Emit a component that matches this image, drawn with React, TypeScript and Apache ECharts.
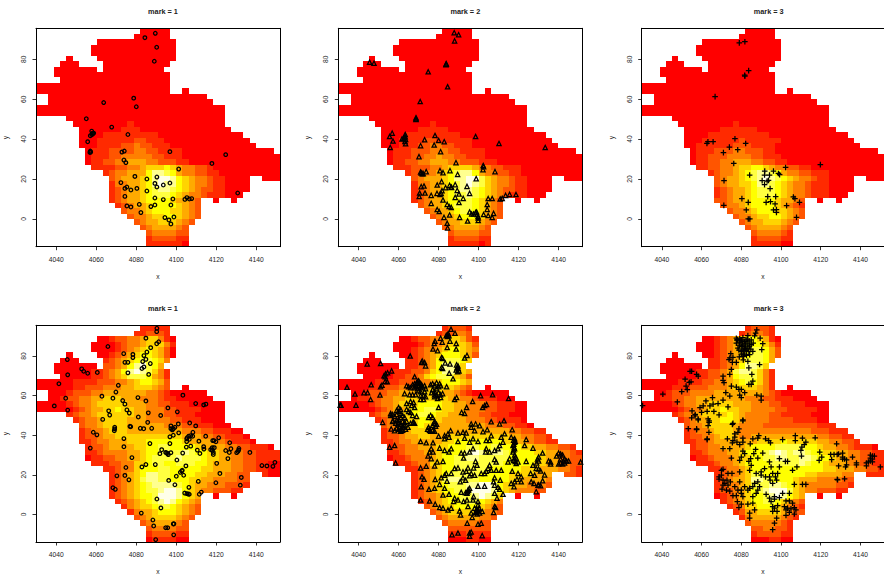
import React, { useEffect, useRef } from "react";
import * as echarts from "echarts";

const X_RANGE = [4029.85, 4151.85];
const Y_RANGE = [-13.9, 95.5];
const N_CELLS = 40;
const X_TICKS = [4040, 4060, 4080, 4100, 4120, 4140];
const Y_TICKS = [0, 20, 40, 60, 80];
const TITLES = ["mark = 1", "mark = 2", "mark = 3", "mark = 1", "mark = 2", "mark = 3"];
const PALETTE = ["#FF0000", "#FF2A00", "#FF5500", "#FF8000", "#FFAA00", "#FFD400", "#FFFF00", "#FFFF40", "#FFFF90", "#FFFFE8"];

// window mask: [from, to] column spans per image row, top row first
const MASK: number[][][] = [
  [[17, 21]], [[16, 21]], [[10, 22]], [[9, 22]], [[9, 22]], [[5, 5], [10, 22]], [[4, 6], [11, 21]], [[3, 9], [11, 20]],
  [[3, 21]], [[4, 21]], [[0, 21]], [[0, 21], [24, 24]], [[2, 27]], [[2, 28]], [[0, 30]], [[0, 30]],
  [[5, 30]], [[6, 30]], [[7, 31]], [[7, 33]], [[7, 34]], [[7, 35]], [[8, 38]], [[8, 39]],
  [[8, 39]], [[9, 39]], [[11, 39]], [[12, 34], [37, 39]], [[12, 34]], [[12, 34]], [[12, 33]], [[12, 26], [29, 29], [32, 32]],
  [[13, 26]], [[14, 26]], [[15, 26]], [[16, 25]], [[17, 24]], [[18, 24]], [[18, 24]], [[18, 24]],
];

// intensity levels per row as "firstColumn:levels"; everything else is level 0
const LEVELS_1 = ["", "", "", "", "", "", "", "", "", "", "", "", "", "", "", "", "",
  "15:1", "14:111", "11:111111111", "10:11111122111", "10:111122322111", "9:111222233221111", "9:111223333322111",
  "9:1122334443322211", "9:11112233455565433221", "11:1233444688764332211", "12:2344456899865433211", "12:1334456898865433211",
  "12:1234456788765432211", "12:1234456777654332111", "12:123445666654432", "13:12344566665432", "14:2334566655432",
  "15:233455665432", "16:2344555432", "17:23444432", "18:2333322", "18:1222211", "18:1111110"];
const LEVELS_2 = ["", "", "", "", "", "", "", "", "", "", "", "", "", "", "", "", "",
  "15:1", "13:11111", "11:111111111", "10:111122111111", "10:111223322111", "9:111222333221111", "9:111223343322111",
  "9:11223344433222111", "9:111222334555543322111", "11:1223345678864332211", "12:2344456889975433211", "12:1334456789875433211",
  "12:1234456788765432211", "12:1234456778765432111", "12:123445667765432", "13:23445677765432", "14:2344567765432",
  "15:234456665432", "16:2344555432", "17:23444432", "18:2333322", "18:1222211", "18:1111101"];
const LEVELS_3 = ["", "", "", "", "", "", "", "", "", "", "", "", "", "", "", "", "",
  "15:1", "13:111111", "11:1111111111", "10:1111112111111", "9:1111112221111", "9:1112223322211", "9:11222333322111",
  "9:112233444332211", "9:1122334556654332211", "11:12334567887643322111", "12:2344567898765433211", "12:2344556887654332111",
  "12:1234456777654332111", "12:1234456777654332111", "12:223445666654432", "13:23345666654321", "14:2334566655432",
  "15:233455665432", "16:2344555432", "17:23444432", "18:2333321", "18:1222211", "18:1111100"];
const LEVELS_4 = ["17:11111", "16:112221", "12:1223345531", "13:1233455531", "13:123456542",
  "12:1234566542", "11:12345677653", "11:2234689764", "9:1123468987531", "9:1123457776431",
  "6:111122233456654 21", "6:11222333445554321", "5:12223344444443321", "4:12233445554443332110", "5:12334555554443322111",
  "6:123445565544333221111", "5:123345555554433322111", "6:123345555444333322111", "7:2334555544444433322111",
  "7:123345554444444443332 2111", "7:1223445555555555544433221 11", "7:1123344455566666654444332111",
  "8:1223444455667766665444433221 11", "8:1123333445667777876655443322 1111", "9:112233445677778777655443322 1111",
  "9:111223355677667776654443322110", "11:11233566677666665544433 2211", "12:12345688776666554443322111",
  "12:123457887766655443333221", "12:12345678888765443332221", "12:1234567789986543322211",
  "12:1234566799986543", "13:12345678986543", "14:1345567765432", "15:134456665432", "16:2345555432", "17:23444432", "18:2333322", "18:1222211", "19:1111"];
const LEVELS_5 = ["17:12221", "16:122332", "12:12233455421", "13:1233455542", "12:123345665431", "12:123456665421", "11:1123467776531",
  "11:1123468875421", "9:111223568875421", "9:112235677754 21", "6:111122233456665421", "5:112223334455554321", "4:122233444555544321",
  "3:11223344555555544332111", "5:123345556666554433322111", "6:12344566776554433322111", "5:1233455677655444332211 1",
  "6:123345566554444333221111", "7:23345565544444444333221 1",
  "7:123345554444444444444332211", "7:1223445544455555555554433221 1", "7:11233444445566666666554432211",
  "8:1223344455666776677666554433221 1", "8:11233344566678987887666 6554433211", "8:01123334566778877777666665443 3221",
  "9:1112335566777777776666655443322", "11:11234566777777666665554443321", "12:123456777776666655554443 32 21",
  "12:1234578877766666554444332 21", "12:1234567778899865544333221", "12:123456677899986543332 2",
  "12:123345667789875", "13:12345667776543", "14:2345566665432", "15:234555554332", "16:2344444332", "17:23333322", "18:2222222", "18:1112111", "18:0001100"];
const LEVELS_6 = ["17:12221", "16:123321", "12:1234566541", "12:12345666531", "12:123456776421", "12:123456776421", "11:1123457776421",
  "11:112346887531", "9:1122347887531", "9:1122346777531", "6:1111223345676531", "5:11122233345555431", "4:1222333344444444321",
  "3:112233444444443332 2111", "5:1233445555444333221111", "6:1233455655443333221 1111", "5:12334555565433332211111",
  "6:12344556654333322221111", "7:2334555543333222222222111", "7:123345554333333333333222111", "7:1223345543344444444444332211 1",
  "7:1122344444445555655555443322 11", "8:1223344445666677777665443 321110", "8:112333445666789 87887665544332 2111", "8:011233345566778877887665443 32 211",
  "9:1112334566667777787665444332211", "11:11233456666666666665544433221 1", "12:123345776666666554444332 2111", "12:12344588766665444333322111",
  "12:1233457778876543333322111", "12:12234567899975433222 11", "12:0123456678986543", "13:12345667765432", "14:1235566654321", "15:124455554322", "16:1344444321", "17:23333321", "18:2233221", "18:1222211", "18:0001100"];

// points as [x - 4000, y]
const POINTS_1 = [[84.3,90.8],[89.5,93],[90.2,86],[89,79],[78.7,60.5],[80,56.2],[63.7,58.3],[55,50.2],[67.7,46],[75.8,42.3],[57.7,44],[57,41.7],[58.2,42.7],[58.3,43],[57.8,42.2],[58.7,43],[55.7,38.7],[57,34],[57.2,33.5],[56.8,33.3],[72.8,33.5],[74,34],[96.8,33.7],[73.8,29.5],[74.8,28.2],[101.2,25],[124.7,32.2],[117.8,27.8],[130.7,13],[79.3,21.3],[85.3,20],[90.3,21],[89.3,17.8],[90.3,16],[93.5,17],[96.8,18],[72.3,18.2],[75.3,16],[74.3,15.3],[77.3,14.5],[80.3,15.3],[85.3,14],[74.3,11.3],[89.3,10.5],[93.5,9.7],[98.3,10],[104.3,9.8],[105.3,10.7],[106.5,10],[107.7,10.2],[81.5,7.3],[87.3,6.2],[89.3,7],[97.3,7],[75.3,6.5],[77.3,6],[82.3,3.2],[94.3,0.7],[96.3,-0.5],[98.8,1],[97.3,-2.5]];
const POINTS_2 = [[87.8,93.3],[90,92.3],[88,89.2],[45.5,78.5],[47.7,78],[83.8,77.5],[83.8,77.8],[83.7,77.2],[74.8,73.7],[84.5,66.2],[70.8,58.8],[68.7,50.7],[68.7,49.8],[68.7,50.2],[56.8,43],[55.5,41.3],[57.2,39],[55.8,35.8],[63.3,42.3],[63.3,41.2],[63,40.8],[61.7,40],[62.5,40.3],[63.5,39.8],[63.2,38.8],[63.5,37.7],[71,36.7],[73,39.7],[78.2,41.8],[80,39.3],[82.8,38.7],[77.8,37],[81,33.7],[98.5,41.3],[110.2,37.8],[133.3,35.8],[70.2,31.2],[88.7,28.2],[102.3,26.8],[102.5,26.2],[102.2,24.7],[108.2,23.7],[71,23.5],[71.3,23],[71.8,22.7],[72.3,22.7],[73.8,23.7],[80.7,24.2],[82.2,23.2],[85.7,24.2],[89.5,22.3],[98.8,20.2],[81.5,18.7],[79.3,17],[83.5,15.7],[85.5,16.8],[86.2,16],[86.5,15.8],[88.3,17.2],[94.2,16.3],[89.3,14.3],[90.2,12.5],[95.5,12.8],[71.3,16.2],[72.7,16.5],[70.5,13],[70.3,11.2],[73.2,13],[76.3,11.8],[79.2,12.8],[80.7,12.3],[81.3,12.8],[81.7,14.2],[82.2,9.5],[88.3,10.8],[92.3,10.3],[90.2,8.2],[84.3,7.3],[85.3,6.2],[86.3,5.8],[76.3,7.8],[79.3,4.7],[80.3,3.7],[85.5,2],[82.7,0.8],[90.5,0.8],[84.3,-2.2],[84.5,-4.5],[94.5,-1],[95.5,3.5],[96.5,2.5],[97.5,2.5],[98.5,3.2],[99,3.5],[99.3,2.2],[99.7,1.2],[99.8,0.5],[99.8,-0.8],[102.5,2.2],[104.8,1.7],[106.8,0.8],[107.5,2.8],[104.3,7.2],[104.3,4.8],[104.8,10.2],[106.8,10.2],[110.8,10],[111.8,10.3],[113.5,11.8],[115.5,12.3],[118.7,12.2]];
const POINTS_3 = [[79,88.2],[81.8,88.8],[83.7,74.3],[81.7,72],[81.8,71.5],[66.8,61.3],[62.7,37.8],[63.2,38.7],[65.8,38.7],[76.8,40.2],[82.2,37.8],[74,36],[78.2,34.7],[71,33.2],[76.2,27.8],[119.8,27.2],[102.3,25.8],[84.2,22],[91.8,24],[91.7,22],[96.2,24],[94.2,22],[98.7,22.8],[99.3,22.2],[71.3,19.2],[90.5,19.2],[93,19],[93.7,19.3],[91.7,17.2],[94.5,15.2],[97.3,11.2],[93.3,11.2],[106.2,11],[107,10.2],[80.3,10.2],[83.5,8.3],[92.5,8.3],[94.7,8.7],[97,7.5],[109.3,8.3],[102.8,6.7],[71.2,6.8],[82.5,4.5],[96.2,4.5],[97.7,4.7],[97.7,3.3],[83.5,0],[84.3,0],[107.8,0.8]];
const POINTS_4 = [[90.3,94],[90.2,92.3],[84.8,89],[91.2,87.2],[90.2,86.2],[87.2,84.2],[65.8,84.8],[85.3,82],[83.8,80.2],[73.7,81.2],[78.3,80.8],[78.3,79.2],[84.8,78.3],[83.2,77.2],[74.3,76.8],[75.8,76.8],[87,76.2],[83.8,74.5],[82.8,73.7],[75.8,71.5],[86.2,70.7],[45.5,78.2],[52.7,73.5],[53.7,72.3],[55.7,71.3],[45.7,70.5],[60.5,71.7],[41.3,66],[71,65.2],[69.8,61.8],[62.8,59.7],[68.3,58.7],[80.8,59],[44.7,58.7],[73.2,57.5],[74.3,55.7],[84.8,57.3],[39,54.8],[45.7,52.7],[75.3,52.8],[66.2,52.3],[66.7,50.2],[76.5,51.2],[63.2,48],[81,49.2],[86,51.3],[92.2,50],[95.8,53.8],[100.5,51.8],[103.3,60.2],[109.7,56],[113.7,55.3],[114.8,55.7],[85.7,46.5],[106.7,46.2],[109.7,44.7],[101,45.7],[97.3,44.7],[99.3,44],[97.3,43.3],[98,42.7],[98.5,43.3],[76.8,44.5],[77.2,44.3],[69.2,44],[69.2,43.2],[69,42.3],[82,43.5],[83.7,43.3],[87.7,43.5],[101.2,41.2],[98.5,40],[96.8,39.2],[58.5,41.5],[60.3,40.2],[73.8,38.3],[73.8,34.2],[57,33.5],[86.8,35.8],[96.8,35.8],[105.2,36.8],[106.2,39.5],[107.2,39.8],[108.3,41.5],[108.2,39.5],[106.5,38],[105.2,38.2],[105.5,38.8],[107.2,34.5],[105,34],[114.7,39.5],[111.3,37],[121.2,38.7],[119.8,36.7],[118.2,37.3],[118.8,37.3],[113.7,34.2],[113.8,33],[110.5,32.5],[111.8,30.8],[117.2,32.7],[118,33.7],[119,33.7],[118,32.5],[118.5,31.3],[118.5,30.3],[124.7,32.3],[126.5,31.3],[126.7,36.2],[127.3,33.2],[130.2,31.2],[130.8,31.8],[131.3,33.3],[131.2,32.5],[136.8,31.3],[125.8,28.2],[120.2,25.8],[121.8,20.7],[119.8,16],[132.5,18.7],[132,14.8],[142.8,24.7],[145.3,24.5],[148.3,24.3],[149.3,26.3],[92.7,32.7],[91.8,30.7],[94.7,31.3],[95.2,31],[95.7,30.8],[96,30.2],[97.3,31.2],[103.2,31],[100.3,27.5],[77.8,28.7],[82.8,24],[84.8,25.2],[89.5,25.2],[74.8,23.7],[70.3,19.5],[74.3,19.7],[76.3,17.5],[68.3,13.5],[69.5,12.7],[104.8,24.5],[102,21.3],[102.7,22],[103,22.3],[100,19.3],[103.7,19.8],[96.2,17.2],[99.3,15],[111,16.7],[106.3,13.7],[104.2,10.8],[105.3,10.5],[106,10.3],[106.5,10.2],[111.5,10.2],[112.5,11.3],[90.3,7.8],[92.3,3.3],[82.5,0.7],[88.3,-2.8],[88.7,-5.8],[94.7,-6.7],[95.7,-6.7],[98.5,-4.8],[98.8,-4.7],[98.7,-10.3],[89.7,-12.7]];
const POINTS_5 = [[86.2,93.5],[88.2,91.5],[83.8,90.3],[84.3,90.7],[84.8,91.2],[85.2,90.3],[84.5,89.8],[81,89],[78.2,87.5],[77.8,86.3],[81.8,87],[85.7,87.5],[88.8,86.3],[77.2,83.5],[79.5,82.7],[84.3,84.3],[88.8,83.5],[65.8,80],[94.2,80.3],[93,79],[81.5,79.2],[82,78.8],[71.8,77.5],[71.5,76.7],[73,76.7],[73.5,75],[83.3,76.5],[85.7,76],[81.5,74.2],[82,73.7],[89,75.5],[89.7,75],[89.3,74.2],[89.8,73.7],[88.8,73],[90.2,72.5],[89.5,72],[85.3,71.3],[87.2,68.5],[44.3,76],[51,76.2],[56.5,72.5],[52.7,70],[53.5,71],[54.5,71.5],[53.3,69.5],[54.3,67],[53.3,67.2],[68,69.5],[46.3,65.5],[51,64.5],[51.7,65.3],[34.2,64.2],[38.2,60.8],[42.7,61.5],[44.5,61.5],[50.7,60.3],[46,58],[30.8,55.2],[31.2,55.2],[38.7,55.2],
[64,65],[65,64.5],[66,64],[67,65.5],[68,66],[68.5,65],[69,66.5],[69.5,67],[70,67.5],[70.5,66.5],[71,66],[71.5,65.5],[70,65],[69,64.5],[68,64],[69.5,63.5],[71,64],[72,64.5],[73,65],[73.5,63.5],[70,62.5],[71,62],[73,62],[65.5,60.5],[63,61],[67,60.5],[68.5,60.5],[71,60],[72.5,60],[73.5,59.5],[71,58],[72.5,58],
[76,65.5],[77,66],[78,65],[79,66.5],[80.5,66],[80,64.5],[81,65],[79,63.5],[77,63],[78,62],[76.5,61.5],[78,60.5],[79,60],[80,61.5],[81,60.5],[82,61],[78,59.5],[79.5,58.5],[81,59],[84,64.5],[88,58],
[66,57],[64,56],[67.5,56.5],[66.5,55],[68,54],[60,54],[61,53],[59,52.5],[64,53],[65,52],[66,51.5],[60,52],[61,51],[62,50],[63,49],[59,50.5],[57,50.5],[56,50],[56,51],[58,49.5],[61,49],[60,48],[59,47.5],[57,47],[58.5,46],[60,46.5],[62,47],[64,47],[61,45.5],[60.5,44],[62,44],[63,45],[63.5,43],[62,42.5],[61,42],[60,43],[59,43.5],[52,46.5],[66,46],[67.5,46.5],[68,46],[69,49.5],[67,50],
[75,49],[76,50],[77,49],[78,47],[78,46],[77,45],[78.5,44.5],[79,45.5],[75,44],[74.5,43],[75.5,42.5],[76,42],[77,42.5],[78,42],[80,54],[89,59],[94,54],[97,57],[101,60],[107,60.5],[115,58.5],[102,54],[103,55],[104,55.5],[91.5,51.5],[93,51],
[57.2,47.3],[59.7,45.7],[63,46.5],[67.2,46.5],[58,42.3],[61.3,42.3],[64.7,44],[62.2,44.8],[56.3,43.2],[58,34.8],[55.5,34],[58.5,26],[71,36.8],[73.8,36.2],[77.2,36.2],[80,39.5],[83,39.8],[84.7,40.7],[86,42.3],[85.2,39],[83,38.2],[89.7,41.2],[92.2,41.5],[93.8,41.2],[93,38.5],[95.5,36.5],[89.7,36.8],[96.3,45.7],[98.5,45.7],[100.5,44.8],[96.3,44],[98,42.3],[102.2,41.8],[104.3,42.8],[106.3,46.8],[110.5,45.7],[112.7,47.3],[116.8,42.8],[106.3,39.8],[113,40.7],[111.3,39],[105.5,37.3],[103.8,37.3],[99.7,36.8],[97.2,38.2],[112.2,36.5],[110.5,34.8],[109.7,33.2],[108,32.3],[105.5,31.5],[103.5,31.5],[116.3,39],[118,38.2],[118,36.5],[117.2,34.8],[118,33.2],[117.2,31.5],[118.5,29],[117.5,27.3],[118.8,25.7],[115.5,28.2],[114.7,26.5],[119.7,26.5],[123.8,37.8],[123,34.8],[127.2,33.5],[123.8,26.8],[127.2,24.8],[128.8,23.2],[116.8,21.8],[119.7,20.7],[121.3,19],[119.2,17.8],[118,16.5],[116.3,15.7],[121.3,16.5],[126,20.7],[128,19.8],[129.7,14.8],[127.7,15.7],[126.3,16.5],[128.8,11.5],[117.7,14],[110.8,17.3],[108,18.5],[107.5,16.5],[108,14.8],[109.7,13.7],[110.5,12.7],[108,10.7],[109.2,8.2],[112.2,10.2],[103,14.3],[99.7,14.3],[95.5,13.2],[94.7,12.3],[91.3,11.2],[94.2,10.7],[76.3,33.2],[75.5,31.5],[77.2,31.5],[74.7,29.5],[76.3,28.2],[80.5,33.5],[79.3,26.5],[82.2,26.8],[78,24.5],[73.8,24.3],[71,23.5],[83,32.3],[85.2,31.5],[86.3,33.2],[91.3,31],[93,31],[95.5,31.5],[92.5,28.5],[97.2,33.2],[103.8,33.2],[108,27.8],[108.8,26.5],[98.5,26.8],[99.2,24.8],[97.5,23.5],[94.7,23.5],[93.8,21.8],[92.2,21.5],[89.7,23.5],[88,23.2],[86.3,20.7],[83.8,20.7],[81.3,18.5],[84.2,16.8],[80.5,15.2],[78.3,17.7],[83,19.8],[95.5,19.5],[96.3,20.7],[92.2,18.5],[90.8,16.5],[93.5,17.3],[105.5,24.8],[104.7,23.2],[103.8,21.8],[106.3,22.3],[108.8,22.3],[111.3,22.3],[101.3,20.7],[103,20.7],[98,19.8],[71.7,19],[72.7,17.8],[71.3,14],[75.2,12.7],[78,13.2],[83,13.2],[82.2,9.8],[85.2,10.2],[88,8.2],[89.7,7.3],[87.5,6.5],[86.3,3.2],[82.2,3.2],[80.5,3.5],[84.7,2.3],[90.5,1.8],[91,-0.2],[94.7,4],[92.5,6.5],[94.2,7.3],[97.5,9],[97.2,7.3],[99.7,6.5],[99.7,4.8],[100.2,3.2],[98,3.2],[98.8,1.5],[100.5,0.7],[101.8,1.5],[96.3,0.7],[96.8,-1.5],[94.3,-4.4],[99.7,-4.9],[101.3,-4.4],[108,4],[108.5,3.5],[107.5,1],[71,7.3],[75.5,6.8],[78.3,5.2],[86.7,-10.2],[89.7,-9.4],[95.5,-9.4],[96.3,-8.9],[95.5,-11],[101.8,-10.7],
[139,29.5],[140,31],[141,30.5],[142,30],[143,28],[142.5,27],[141,26],[140,25.5],[142,25.5],[143,26],[144,27],[145,27],[151,26.5],[136,26.5],[135,27],[136,25.5],[141,28],[132,31],[130,29],[129.5,28],[130,27],[129,26],[131,22],[130,23],[133,20],[132,17],[130,15],[131,14.5],
[118.3,37],[117.5,37.5],[117.6,35.5],[117.8,33.8],[117.5,32.5],[118,30],[117.9,28.2],[118.3,26.8],[99.5,2.2],[99,2.5],[100,1.8],[98.5,1],[99.3,0.2],[94.5,11.5],[93.5,11],[95,12.5]];
const POINTS_6 = [[75.5,45.5],[80.8,47.3],[63.8,47.3],[58.3,47.7],[63.3,44.8],[57.5,43.2],[63.7,41.5],[62.8,38.2],[78.8,43.2],[78.3,41.5],[76.7,40.7],[73,38.2],[76.7,39],[75.8,37.3],[75.5,36.2],[77.8,36.5],[79.2,35.2],[80.8,36.5],[80.8,38.5],[84.5,35.7],[88.8,39.8],[88.3,38.5],[85.8,38.2],[92.2,38.2],[93.8,37.3],[94.7,36.2],[100.8,37.8],[107.2,39.8],[107.2,37.3],[110.8,38.5],[112.5,36.5],[111.7,35.2],[110.5,34],[110,32.3],[117.2,38.7],[128,35.7],[119.5,31.5],[120.5,29],[119.2,27.3],[125.5,27.7],[125,30.3],[126.7,30.3],[128.3,30.3],[87.2,32.8],[80.8,32],[81.7,30.7],[80,29],[79.2,27.3],[75,28.5],[70.8,33.2],[74.2,33.2],[90.8,31],[94.2,26.5],[88.3,28.5],[86.3,30.7],[84.7,28.2],[83.8,26.8],[85,24.8],[84.2,22.3],[79.2,21.5],[99.2,28.2],[103.3,26.8],[102.2,26.8],[110.3,29.5],[108,24],[105.8,22.3],[91.7,23.2],[90,21.5],[92.2,19],[95,24],[99.2,24],[98.3,20.7],[97.2,19],[95.8,20.7],[94.2,19],[94.5,17.3],[97.8,17.3],[95.8,15.7],[90,19.8],[87.5,20.7],[88.3,16.5],[86.7,15.7],[85.8,14],[89.2,14],[88.3,12.3],[87.5,10.7],[84.2,13.2],[83.3,12.3],[81.7,14],[80,12.3],[79.2,16.5],[106.7,15.2],[110.8,15.2],[112.5,15.2],[128.3,17.7],
[70.8,22.8],[70,22.3],[73.3,20.7],[75.3,20.7],[68.8,19],[70,19.8],[68.8,17.8],[70.8,17.3],[72.8,17.3],[74.5,16.5],[71.7,15.7],[70.8,14.8],[73.3,14.8],[70.3,12.8],[72.5,12.3],[74.2,11.8],[76.7,14],[78.3,12.3],[80,10.7],[77.5,9.5],[75.8,9.5],[80.8,9],[78,6.5],[80,5.2],[78.8,3.5],[83.3,5.2],[85.8,9],[85.8,5.7],[86.7,2.3],[84.2,0.7],[84.2,-1.9],
[92.5,10.2],[94.2,8.2],[95,6.5],[96.7,9],[99.2,8.5],[96.7,7.8],[100.8,10.7],[104.2,10.7],[98.3,4.5],[95.8,4],[96.7,3.2],[95.8,1.5],[98,1.5],[102.5,6.8],[104.2,6.8],[105.8,5.7],[101.7,4],[103.3,3.2],[105,2.8],[106.7,3.5],[107.5,2.3],[102.5,2.3],[104.2,1],[106.7,0.2],[102.5,-0.5],[97.8,-1.9],[96.7,-4.4],[95.8,-7.7],
[129,30.5],[131,31],[131,29],[131,28],[132,28],[133,27.5],[133,25],[132.5,24],[129,24.5],[136,29],[138,26],[138,25],[143,26],[143,24.5],[145,30],[146,29.5],[145,28.5],[146,28],[147,29.5],[145,27],[144,26.5],[146,26.5],[150,24],[128.5,17.5],[132,18],
[87.8,93.2],[87.2,91.5],[86.7,90.2],[89.5,89],[90.8,86.2],[90.3,83.2],[77.5,89],[79.2,88.7],[80.8,89.3],[83.3,90.3],[85,88.2],[83.3,86.5],[81.7,87.3],[79.2,87],[77.5,86.5],[80,84.8],[78.3,84],[81.7,84],[80,82.3],[83.3,84],[85,85.7],[85.8,82.3],[84.2,80.7],[81.7,81],[80.8,79.8],[74.7,81.2],[74.2,79],[75.8,79.3],[73.8,78.2],[75.5,76.8],[77.5,76.8],[83.3,77.3],[83.8,74],[89.2,75.7],[75,73.2],[74.2,70.7],[70.8,69.8],[70.8,67.7],[71.3,66.5],[85.3,70.7],[85.8,67.3],[83.8,65.7],[85,65.7],[75,64.8],[77.5,64.3],[78.8,63.2],[80,63.2],[81.7,61.5],[79.2,60.3],[80,59],[72.2,61.5],[74.2,59.8],[87.8,60.3],[90,59.8],[90,57.7],
[65.5,59],[62.2,57.3],[60.8,54.8],[59.2,54],[64.2,54.8],[65.8,55.7],[68.3,56],[70.8,57.7],[73.3,54.3],[62.8,52],[66.2,52],[68.8,50.3],[60,51.5],[58.3,48.2],[55.2,52.3],[56.7,49.8],[63.3,48.2],[63.8,46.5],[80.8,47.7],[75.8,46],
[54.2,72.3],[55,72.3],[57.5,70.7],[58.3,69.8],[54.7,67],[51.7,68.3],[52.2,64.8],[53.8,66.7],[50,62],[52.8,63],[40.5,60.7],[47.8,56.8],[30.3,55],[55,48.8],[56.8,50.5],[57.5,42.8],[53.3,43.3],[62.8,37.8],
[78,88.3],[79.8,87.7],[80.5,86.5],[82.4,88],[84,87.5],[86,86.5],[79,85.5],[80.8,85.5],[82.3,85],[84.1,85],[78.8,83],[80.8,83],[82.5,82.8],[83.8,82.2],[80,81],[81.2,80],[82.6,80.3],[84.8,83.5],[79,79.5],[81,78],[82,86],[80,88.2],[77.8,88],[83,88.5],[81,82.5],[82,83.5]];
const ALL_POINTS = [POINTS_1, POINTS_2, POINTS_3, POINTS_4, POINTS_5, POINTS_6];
const ALL_LEVELS = [LEVELS_1, LEVELS_2, LEVELS_3, LEVELS_4, LEVELS_5, LEVELS_6];
const PANEL_LEFT = [36, 338.3, 641.7];
const PANEL_TOP = [28.3, 325.3];
const PANEL_W = 244;
const PANEL_H = 218.4;
const SYMBOLS = ["circle", "triangle", "path://M0 5H10M5 0V10"];
const SYMBOL_SIZES = [3.6, 4.3, 5.6];

const CW = (X_RANGE[1] - X_RANGE[0]) / N_CELLS;
const CH = (Y_RANGE[1] - Y_RANGE[0]) / N_CELLS;

function cells(rows: string[]) {
  const out: number[][] = [];
  rows.forEach((raw, r) => {
    const row = raw.replace(/ /g, "");
    const [startText, digits] = row ? row.split(":") : ["0", ""];
    const start = Number(startText);
    MASK[r].forEach(([a, b]) => {
      for (let c = a; c <= b; c++) {
        const lv = c >= start && c - start < digits.length ? Number(digits[c - start]) : 0;
        out.push([X_RANGE[0] + c * CW, Y_RANGE[1] - (r + 1) * CH, lv]);
      }
    });
  });
  return out;
}

function renderCell(_: any, api: any) {
  const x = api.value(0), y = api.value(1);
  const a = api.coord([x, y + CH]);
  const b = api.coord([x + CW, y]);
  const x0 = Math.round(a[0]), y0 = Math.round(a[1]);
  return {
    type: "rect",
    shape: { x: x0, y: y0, width: Math.round(b[0]) - x0, height: Math.round(b[1]) - y0 },
    style: { fill: PALETTE[api.value(2)] },
  };
}

const FONT = '"Liberation Sans", Arial, sans-serif';

function buildOption() {
  const grid: any[] = [], xAxis: any[] = [], yAxis: any[] = [], series: any[] = [], title: any[] = [];
  for (let i = 0; i < 6; i++) {
    const col = i % 3, row = Math.floor(i / 3);
    const left = PANEL_LEFT[col], top = PANEL_TOP[row];
    grid.push({ left, top, width: PANEL_W, height: PANEL_H, containLabel: false });
    const line = { show: true, onZero: false, lineStyle: { color: "#000", width: 1 } };
    xAxis.push({
      type: "value", gridIndex: i, min: X_RANGE[0], max: X_RANGE[1], position: "bottom", z: 10,
      name: "x", nameLocation: "middle", nameGap: 26,
      nameTextStyle: { fontFamily: FONT, fontSize: 6.7, color: "#222" },
      splitLine: { show: false }, axisLine: line,
      axisTick: { show: true, length: 3.5, customValues: X_TICKS, lineStyle: { color: "#000", width: 0.8 } },
      axisLabel: { customValues: X_TICKS, formatter: (v: number) => String(v), margin: 9, fontFamily: FONT, fontSize: 6.7, color: "#222" },
    });
    xAxis.push({
      type: "value", gridIndex: i, min: X_RANGE[0], max: X_RANGE[1], position: "top", z: 10,
      splitLine: { show: false }, axisLine: line, axisTick: { show: false }, axisLabel: { show: false },
    });
    yAxis.push({
      type: "value", gridIndex: i, min: Y_RANGE[0], max: Y_RANGE[1], position: "left", z: 10,
      name: "y", nameLocation: "middle", nameGap: 27,
      nameTextStyle: { fontFamily: FONT, fontSize: 6.7, color: "#222" },
      splitLine: { show: false }, axisLine: line,
      axisTick: { show: true, length: 3.5, customValues: Y_TICKS, lineStyle: { color: "#000", width: 0.8 } },
      axisLabel: { customValues: Y_TICKS, formatter: (v: number) => String(v), rotate: 90, margin: 9, fontFamily: FONT, fontSize: 6.7, color: "#222" },
    });
    yAxis.push({
      type: "value", gridIndex: i, min: Y_RANGE[0], max: Y_RANGE[1], position: "right", z: 10,
      splitLine: { show: false }, axisLine: line, axisTick: { show: false }, axisLabel: { show: false },
    });
    series.push({
      type: "custom", xAxisIndex: i * 2, yAxisIndex: i * 2, renderItem: renderCell, clip: true, silent: true,
      encode: { x: 0, y: 1 }, data: cells(ALL_LEVELS[i]), z: 1,
    });
    series.push({
      type: "scatter", xAxisIndex: i * 2, yAxisIndex: i * 2, symbol: SYMBOLS[col], symbolSize: SYMBOL_SIZES[col], silent: true, z: 3,
      itemStyle: { color: "transparent", borderColor: "#000", borderWidth: 1.25, opacity: 1 },
      data: ALL_POINTS[i].map(([x, y]) => [4000 + x, y]),
    });
    title.push({
      text: TITLES[i], left: left + PANEL_W / 2, top: top - 25, textAlign: "center",
      textStyle: { fontFamily: FONT, fontSize: 7.3, fontWeight: "bold", color: "#222" },
    });
  }
  return { animation: false, backgroundColor: "#fff", grid, xAxis, yAxis, series, title };
}

export default function App() {
  const ref = useRef<HTMLDivElement>(null);
  useEffect(() => {
    const chart = echarts.init(ref.current!, undefined, { renderer: "svg" });
    chart.setOption(buildOption() as any);
    return () => chart.dispose();
  }, []);
  return <div ref={ref} style={{ position: "absolute", left: 0, top: 0, width: 884, height: 576 }} />;
}
